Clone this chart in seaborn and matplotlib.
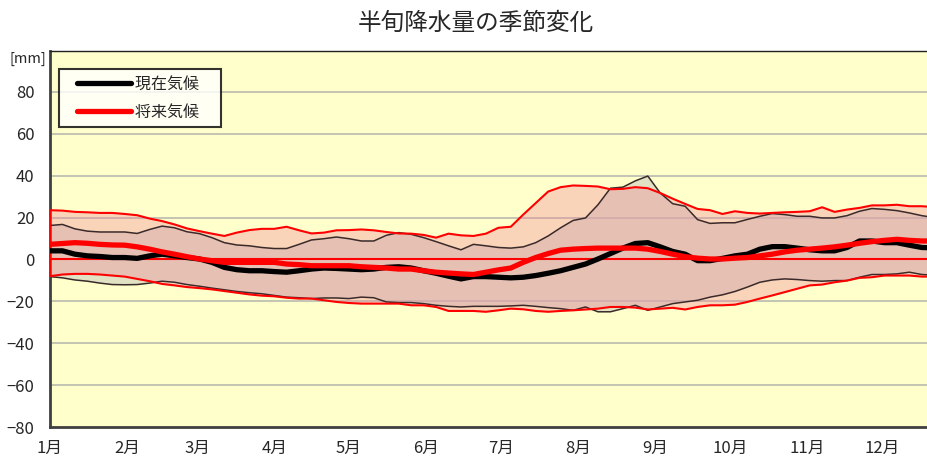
import numpy as np
import pandas as pd
import seaborn as sns
import matplotlib.pyplot as plt
from matplotlib.lines import Line2D
from matplotlib.legend_handler import HandlerLine2D

# pentad index (5-day periods from 1 Jan); the picture is cut off in mid-December
pentad = np.arange(72)

# 現在気候 (current climate): upper band, mean, lower band [mm]
now_upper = [16.2, 16.7, 14.6, 13.5, 13.1, 13.1, 13.1, 12.4, 14.3, 15.9, 15.1, 13.2, 12.3, 10.4, 8.0, 6.9, 6.5, 5.7,
             5.2, 5.2, 7.2, 9.3, 9.9, 10.7, 9.9, 8.8, 8.8, 11.5, 12.8, 12.0, 10.4, 8.5, 6.5, 4.6, 7.2, 6.5,
             5.7, 5.4, 6.0, 8.0, 11.2, 15.1, 18.6, 19.8, 26.1, 34.0, 34.5, 37.5, 39.8, 31.7, 26.6, 25.4, 19.0,
             17.2, 17.5, 17.5, 19.1, 20.6, 21.9, 21.4, 20.6, 20.6, 19.8, 19.8, 20.9, 23.0, 24.3, 23.9, 23.3, 22.2, 20.9, 20.0]
now_mean = [4.1, 4.1, 2.5, 1.7, 1.4, 0.9, 0.9, 0.5, 1.7, 2.5, 1.7, 0.9, 0.2, -1.4, -3.8, -4.9, -5.4, -5.4,
            -5.8, -6.1, -5.4, -4.6, -4.1, -4.3, -4.6, -4.9, -4.6, -3.8, -3.5, -4.1, -5.4, -6.6, -8.0, -9.3, -8.2, -8.2,
            -8.5, -8.8, -8.5, -7.7, -6.6, -5.4, -3.8, -2.2, 0.2, 2.8, 5.4, 7.6, 8.0, 6.0, 3.8, 2.5, -0.6,
            -0.6, 0.5, 1.7, 2.5, 4.9, 6.1, 6.1, 5.4, 4.6, 4.1, 4.1, 5.7, 8.8, 8.8, 8.0, 8.0, 6.8, 5.7, 5.5]
now_lower = [-8.2, -8.8, -9.8, -10.4, -11.3, -12.0, -12.1, -12.0, -11.3, -10.4, -10.9, -12.0, -12.8, -13.7, -14.5, -15.3, -15.9, -16.4,
             -17.2, -18.0, -18.3, -18.7, -18.4, -18.4, -18.7, -18.0, -18.3, -20.3, -20.6, -20.6, -21.1, -21.9, -22.4, -22.7, -22.4, -22.4,
             -22.4, -22.2, -21.9, -22.4, -23.0, -23.5, -24.3, -22.7, -25.0, -25.0, -23.5, -21.9, -24.3, -22.7, -21.1, -20.3, -19.5,
             -18.0, -16.9, -15.3, -13.2, -10.9, -9.8, -9.3, -9.6, -10.1, -10.4, -10.1, -10.1, -8.5, -7.2, -7.2, -6.9, -6.1, -7.2, -7.5]

# 将来気候 (future climate)
fut_upper = [23.5, 23.3, 22.7, 22.5, 22.2, 22.2, 21.7, 21.1, 19.5, 18.3, 16.7, 14.8, 13.5, 12.3, 11.2, 12.8, 14.0, 14.6,
             14.6, 15.6, 13.9, 12.4, 12.8, 13.9, 14.0, 14.3, 13.9, 13.1, 12.4, 12.3, 11.7, 10.4, 12.3, 11.5, 11.2, 12.3,
             15.1, 15.6, 21.4, 26.9, 32.4, 34.5, 35.3, 35.1, 34.8, 33.5, 33.7, 34.5, 34.0, 31.7, 29.0, 26.5, 24.1,
             23.5, 21.7, 23.0, 22.2, 21.9, 22.2, 22.5, 22.7, 23.0, 24.9, 22.7, 23.8, 24.6, 25.8, 25.8, 26.1, 25.4, 25.4, 25.0]
fut_mean = [7.2, 7.6, 8.0, 7.7, 7.2, 6.9, 6.8, 6.0, 4.9, 3.6, 2.5, 1.3, 0.2, -0.6, -1.4, -1.4, -1.4, -1.4,
            -1.4, -2.2, -2.5, -3.0, -3.0, -3.0, -3.0, -3.5, -3.8, -4.1, -4.6, -4.6, -5.4, -6.1, -6.5, -6.9, -7.2, -6.1,
            -5.0, -4.1, -1.4, 0.9, 2.8, 4.4, 4.9, 5.2, 5.4, 5.4, 5.4, 5.4, 4.9, 3.8, 2.5, 1.3, 0.6,
            0.2, 0.2, 0.6, 0.9, 1.7, 2.5, 3.6, 4.4, 4.9, 5.4, 6.0, 6.8, 7.7, 8.5, 9.1, 9.6, 9.1, 8.8, 8.8]
fut_lower = [-8.0, -7.2, -6.9, -6.9, -7.2, -7.7, -8.2, -9.3, -10.4, -11.7, -12.4, -13.2, -13.7, -14.3, -15.1, -15.9, -16.7, -17.3,
             -17.6, -18.3, -18.7, -18.7, -19.5, -20.3, -20.8, -21.1, -21.1, -21.1, -21.1, -21.9, -21.9, -22.7, -24.6, -24.6, -24.6, -25.0,
             -24.3, -23.5, -23.8, -24.6, -25.0, -24.6, -24.3, -23.9, -23.5, -22.7, -22.7, -23.0, -23.9, -23.5, -23.1, -23.9, -22.7,
             -21.9, -21.9, -21.6, -20.3, -18.7, -17.2, -15.6, -14.0, -12.4, -12.0, -10.9, -10.1, -8.8, -8.5, -7.7, -7.7, -7.7, -8.2, -8.2]

month_days = [0, 31, 59, 90, 120, 151, 181, 212, 243, 273, 304, 334]
month_labels = ['1月', '2月', '3月', '4月', '5月', '6月', '7月', '8月', '9月', '10月', '11月', '12月']

df = pd.DataFrame({'day': pentad * 5,
                   'now_upper': now_upper, 'now_mean': now_mean, 'now_lower': now_lower,
                   'fut_upper': fut_upper, 'fut_mean': fut_mean, 'fut_lower': fut_lower})

sns.set_theme(style='white')
plt.rcParams['font.family'] = ['Noto Sans CJK JP', 'DejaVu Sans']

fig = plt.figure(figsize=(9.28, 4.59), dpi=100)
ax = fig.add_axes([50 / 928, 32 / 459, 878 / 928, 376 / 459])
ax.set_facecolor('#ffffcc')

# bands
ax.fill_between(df['day'], df['now_lower'], df['now_upper'], facecolor='#c4c4bc', alpha=0.5,
                edgecolor='none', zorder=2)
ax.fill_between(df['day'], df['fut_lower'], df['fut_upper'], facecolor='#f08898', alpha=0.36,
                edgecolor='none', zorder=3)
ax.fill_between(df['day'], df['fut_lower'], df['fut_upper'], facecolor='none',
                edgecolor='#ff0000', linewidth=1.5, zorder=5)
ax.axhline(0, color='#ff0000', lw=1.5, zorder=4)

sns.lineplot(data=df, x='day', y='now_upper', color='#3a2a2a', lw=1.1, ax=ax, zorder=4)
sns.lineplot(data=df, x='day', y='now_lower', color='#3a2a2a', lw=1.1, ax=ax, zorder=4)
sns.lineplot(data=df, x='day', y='now_mean', color='black', lw=3.8, ax=ax, zorder=6)
sns.lineplot(data=df, x='day', y='fut_mean', color='#ff0000', lw=3.8, ax=ax, zorder=7)

ax.set_xlim(0, 352.5)
ax.set_ylim(-80, 99.5)
ax.set_yticks(np.arange(-80, 81, 20))
ax.set_xticks(month_days)
ax.set_xticklabels(month_labels)
ax.set_xlabel('')
ax.set_ylabel('')
for y in range(-60, 81, 20):
    ax.axhline(y, color='#c4c4b4', lw=1.4, zorder=1)

ax.tick_params(axis='x', direction='in', length=4, width=1, color='#b0b0a0', pad=9, labelsize=12)
ax.tick_params(axis='y', length=0, pad=11, labelsize=12)
for s in ['left', 'bottom']:
    ax.spines[s].set_color('#404040')
    ax.spines[s].set_linewidth(2)
ax.spines['top'].set_color('#202020')
ax.spines['top'].set_linewidth(1)
ax.spines['right'].set_visible(False)

handles = [Line2D([], [], color='black', lw=3.8, solid_capstyle='round'),
           Line2D([], [], color='#ff0000', lw=3.8, solid_capstyle='round')]
leg = ax.legend(handles, ['現在気候\u3000', '将来気候\u3000'], loc='upper left',
                bbox_to_anchor=(0.0103, 0.952), borderaxespad=0, fontsize=11.5,
                handlelength=4.1, handletextpad=0.25, labelspacing=0.69, borderpad=0.4,
                frameon=True, fancybox=False,
                handler_map={Line2D: HandlerLine2D(xpad=0.75)})
leg.get_frame().set_edgecolor('black')
leg.get_frame().set_linewidth(1.5)
leg.get_frame().set_facecolor('white')
leg.set_zorder(10)

fig.text(28 / 928, 1 - 59 / 459, '[mm]', ha='center', va='center', fontsize=10.5)
fig.suptitle('半旬降水量の季節変化', x=476 / 928, y=1 - 23 / 459, ha='center', va='center', fontsize=17)

fig.savefig('out.png', dpi=100)
